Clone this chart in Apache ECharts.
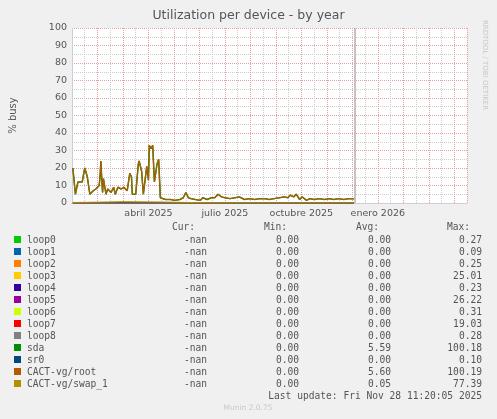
<!DOCTYPE html>
<html><head><meta charset="utf-8">
<script src="https://cdn.jsdelivr.net/npm/echarts@6/dist/echarts.min.js"></script>
<style>html,body{margin:0;background:#f0f0f0}#c{width:497px;height:419px}</style>
</head><body><div id="c"></div>
<script>
// días desde 1 ene 2025
const days = [1,4,7,12,14,15,18,19,21,25,28,32,33,34,35,36,37,40,42,46,49,51,54,58,61,65,68,70,71,75,78,79,82,84,88,90,91,93,95,97,100,102,104,106,110,116,121,127,131,134,137,140,145,151,154,159,164,168,172,174,176,180,186,192,197,203,209,215,221,227,232,238,244,250,254,257,261,264,268,271,276,280,285,291,297,303,308,314,320,326,332]
const rootVals = [20,5,12,12,11,20,15,16,5,7,8,10,15,24,14,6,14,5,8,6,9,5,9,8,9,7,17,15,5,5,22,24,18,5,21,13,33,31,33,12,22,25,3,2,2,2,1.5,2,3,6,3,2.5,2,1.5,3,2,3,3,5,6,3.5,3,2.5,3,3.5,2,2.5,2,2.5,2.5,2,2.5,3,3.5,3,4.5,3.5,5,2,3.5,1.5,2.5,2,2.5,2,2.5,2,2.5,2,2.5,2.5]
const sdaVals = rootVals
const swapDays = [1,30,60,100,150,250,332]
const swapVals = [0.3,0.5,0.8,0.6,0.2,0.1,0.1]
const xLabels = {90:'abril 2025',180:'julio 2025',270:'octubre 2025',360:'enero 2026'}

const legendRows = [
  ['loop0','#00cc00','0.00','0.27'],['loop1','#0066b3','0.00','0.09'],['loop2','#ff8000','0.00','0.25'],
  ['loop3','#ffcc00','0.00','25.01'],['loop4','#330099','0.00','0.23'],['loop5','#990099','0.00','26.22'],
  ['loop6','#ccff00','0.00','0.31'],['loop7','#ff0000','0.00','19.03'],['loop8','#808080','0.00','0.28'],
  ['sda','#008f00','5.59','100.18'],['sr0','#00487d','0.00','0.10'],['CACT-vg/root','#b35a00','5.60','100.19'],
  ['CACT-vg/swap_1','#b38f00','0.05','77.39']
]

const mono = 'DejaVu Sans Mono'
const txt = (x, y, s, align, color, size, font) => ({type:'text', x, y, style:{text:s, fill:color||'#555', font:(size||9.6)+'px "'+(font||mono)+'"', textAlign:align||'left', textVerticalAlign:'middle'}})
const g = []
g.push(txt(195,227,'Cur:','right'), txt(287,227,'Min:','right'), txt(379,227,'Avg:','right'), txt(470,227,'Max:','right'))
legendRows.forEach((r, i) => {
  const y = 240 + i*12
  g.push({type:'rect', shape:{x:14,y:y-4,width:7,height:7}, style:{fill:r[1]}})
  g.push(txt(27,y,r[0]), txt(207,y,'-nan','right'), txt(299,y,'0.00','right'), txt(391,y,r[2],'right'), txt(482,y,r[3],'right'))
})
g.push(txt(482,396,'Last update: Fri Nov 28 11:20:05 2025','right'))
g.push(txt(248,408,'Munin 2.0.75','center','#c8c8c8',7.5,'DejaVu Sans'))
g.push({type:'text', x:485, y:65, rotation:-Math.PI/2, style:{text:'RRDTOOL / TOBI OETIKER', fill:'#c8c8c8', font:'7px "DejaVu Sans"', textAlign:'center', textVerticalAlign:'middle'}})
g.push({type:'line', shape:{x1:355,y1:28,x2:355,y2:203}, style:{stroke:'#888',lineWidth:1}})

const zeroSeries = legendRows.filter(r => !['sda','CACT-vg/root','CACT-vg/swap_1'].includes(r[0]))
  .map(r => ({name:r[0], type:'line', data:[[1,0],[332,0]], symbol:'none', lineStyle:{color:r[1],width:1}}))

const chart = echarts.init(document.getElementById('c'))
chart.setOption({
  animation:false,
  backgroundColor:'#f0f0f0',
  title:{text:'Utilization per device - by year', left:'center', top:4, textStyle:{fontFamily:'DejaVu Sans', fontSize:12.5, fontWeight:'normal', color:'#555'}},
  grid:{left:66, right:30, top:28, bottom:216, backgroundColor:'#fff', show:true, borderWidth:0},
  xAxis:{type:'value', min:0, max:465, interval:30,
    axisLine:{lineStyle:{color:'#ccd'}}, axisTick:{show:false},
    axisLabel:{formatter:v => xLabels[v] || '', color:'#555', fontFamily:'DejaVu Sans', fontSize:9.5, margin:6},
    splitLine:{lineStyle:{color:'#e8a0a0', type:'dotted'}},
    minorTick:{show:false, splitNumber:2}, minorSplitLine:{show:true, lineStyle:{color:'#ccc', type:'dotted'}}},
  yAxis:{type:'value', min:0, max:100, interval:10, name:'% busy', nameLocation:'middle', nameGap:54,
    nameTextStyle:{color:'#555', fontFamily:'DejaVu Sans', fontSize:10},
    axisLine:{show:true, lineStyle:{color:'#ccd'}}, axisTick:{show:false},
    axisLabel:{color:'#555', fontFamily:'DejaVu Sans', fontSize:9.5, margin:5},
    splitLine:{lineStyle:{color:'#e8a0a0', type:'dotted'}},
    minorTick:{show:false, splitNumber:2},
    minorSplitLine:{show:true, lineStyle:{color:'#ccc', type:'dotted'}}},
  series: zeroSeries.concat([
    {name:'sda', type:'line', data:days.map((d,i)=>[d,sdaVals[i]]), symbol:'none', lineStyle:{color:'#008f00',width:1.5}},
    {name:'CACT-vg/root', type:'line', data:days.map((d,i)=>[d,rootVals[i]]), symbol:'none', lineStyle:{color:'#b35a00',width:1.2}},
    {name:'CACT-vg/swap_1', type:'line', data:swapDays.map((d,i)=>[d,swapVals[i]]), symbol:'none', lineStyle:{color:'#b38f00',width:1}}
  ]),
  graphic:g
})
</script></body></html>
